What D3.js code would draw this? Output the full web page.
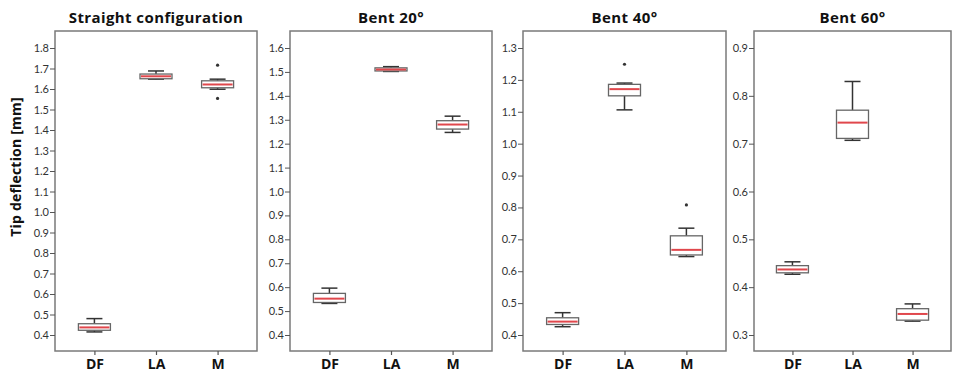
<!DOCTYPE html>
<html>
<head>
<meta charset="utf-8">
<script src="https://cdn.jsdelivr.net/npm/d3@7/dist/d3.min.js"></script>
<style>
  html, body { margin: 0; padding: 0; background: #fff; }
  svg { display: block; }
</style>
</head>
<body>
<svg id="chart" width="953" height="372"></svg>
<script>
// Groups shown on every panel
const categories = ["DF", "LA", "M"];

// Panel titles
const panelTitles = ["Straight configuration", "Bent 20°", "Bent 40°", "Bent 60°"];

// Y tick values for each panel
const straightTicks = [0.4, 0.5, 0.6, 0.7, 0.8, 0.9, 1.0, 1.1, 1.2, 1.3, 1.4, 1.5, 1.6, 1.7, 1.8];
const bent20Ticks = [0.4, 0.5, 0.6, 0.7, 0.8, 0.9, 1.0, 1.1, 1.2, 1.3, 1.4, 1.5, 1.6];
const bent40Ticks = [0.4, 0.5, 0.6, 0.7, 0.8, 0.9, 1.0, 1.1, 1.2, 1.3];
const bent60Ticks = [0.3, 0.4, 0.5, 0.6, 0.7, 0.8, 0.9];

// Box statistics per group: [lower whisker, Q1, median, Q3, upper whisker] in mm
const straightStats = [
  [0.415, 0.423, 0.437, 0.455, 0.480],
  [1.648, 1.650, 1.662, 1.673, 1.688],
  [1.599, 1.606, 1.622, 1.640, 1.648]
];
const bent20Stats = [
  [0.532, 0.536, 0.552, 0.574, 0.596],
  [1.502, 1.504, 1.510, 1.517, 1.522],
  [1.247, 1.261, 1.280, 1.296, 1.315]
];
const bent40Stats = [
  [0.426, 0.433, 0.442, 0.454, 0.470],
  [1.106, 1.150, 1.171, 1.186, 1.190],
  [0.646, 0.651, 0.667, 0.711, 0.735]
];
const bent60Stats = [
  [0.427, 0.430, 0.437, 0.445, 0.453],
  [0.707, 0.711, 0.744, 0.770, 0.830],
  [0.329, 0.331, 0.344, 0.355, 0.365]
];

// Outlying measurements per group
const straightOutliers = [[], [], [1.716, 1.554]];
const bent20Outliers = [[], [], []];
const bent40Outliers = [[], [1.249], [0.808]];
const bent60Outliers = [[], [], []];

const panelTicks = [straightTicks, bent20Ticks, bent40Ticks, bent60Ticks];
const panelStats = [straightStats, bent20Stats, bent40Stats, bent60Stats];
const panelOutliers = [straightOutliers, bent20Outliers, bent40Outliers, bent60Outliers];

// Layout
const frameX = [[55, 257], [290, 492], [523, 726], [754, 951]];
const frameTop = 31, frameBottom = 351;
const tickTopY = 48, tickBottomY = 335;
const boxWidth = 32, capWidth = 16;
const bodyFont = "Lato, 'Open Sans', 'DejaVu Sans', sans-serif";
const boldFont = "'Open Sans', Lato, 'DejaVu Sans', sans-serif";

const svg = d3.select("#chart");

// Shared y-axis title
svg.append("text")
  .attr("transform", "translate(21, 167) rotate(-90)")
  .attr("text-anchor", "middle")
  .attr("font-family", boldFont)
  .attr("font-weight", "bold")
  .attr("font-size", 14)
  .attr("letter-spacing", 0.2)
  .attr("fill", "#111")
  .text("Tip deflection [mm]");

panelTitles.forEach((title, p) => {
  const [x0, x1] = frameX[p];
  const ticks = panelTicks[p];
  const g = svg.append("g");

  const y = d3.scaleLinear()
    .domain([ticks[0], ticks[ticks.length - 1]])
    .range([tickBottomY, tickTopY]);

  const x = d3.scalePoint()
    .domain(categories)
    .range([x0, x1])
    .padding(0.64);

  // Panel frame
  g.append("rect")
    .attr("x", x0).attr("y", frameTop)
    .attr("width", x1 - x0).attr("height", frameBottom - frameTop)
    .attr("fill", "#fff")
    .attr("stroke", "#7a7a7a")
    .attr("stroke-width", 1.5);

  // Title
  g.append("text")
    .attr("x", (x0 + x1) / 2).attr("y", 23)
    .attr("text-anchor", "middle")
    .attr("font-family", boldFont)
    .attr("font-weight", "bold")
    .attr("font-size", 15)
    .attr("letter-spacing", 0.4)
    .attr("fill", "#111")
    .text(title);

  // Y axis
  const yAxis = g.append("g")
    .attr("transform", `translate(${x0},0)`)
    .call(d3.axisLeft(y).tickValues(ticks).tickFormat(d3.format(".1f")).tickSize(5).tickPadding(1));
  yAxis.select(".domain").remove();
  yAxis.selectAll("line").attr("stroke", "#555").attr("stroke-width", 1);
  yAxis.selectAll("text")
    .attr("font-family", bodyFont)
    .attr("font-size", 11)
    .attr("fill", "#333");

  // X axis
  const xAxis = g.append("g")
    .attr("transform", `translate(0,${frameBottom})`)
    .call(d3.axisBottom(x).tickSize(4).tickPadding(4));
  xAxis.select(".domain").remove();
  xAxis.selectAll("line").attr("stroke", "#555").attr("stroke-width", 1.2);
  xAxis.selectAll("text")
    .attr("font-family", boldFont)
    .attr("font-weight", "bold")
    .attr("font-size", 14)
    .attr("fill", "#111");

  // Box plots
  panelStats[p].forEach((s, i) => {
    const cx = x(categories[i]);
    const [lo, q1, med, q3, hi] = s;
    const bg = g.append("g");

    // Whiskers
    bg.append("line")
      .attr("x1", cx).attr("x2", cx)
      .attr("y1", y(q3)).attr("y2", y(hi))
      .attr("stroke", "#333").attr("stroke-width", 1.5);
    bg.append("line")
      .attr("x1", cx).attr("x2", cx)
      .attr("y1", y(q1)).attr("y2", y(lo))
      .attr("stroke", "#333").attr("stroke-width", 1.5);
    [lo, hi].forEach(v => {
      bg.append("line")
        .attr("x1", cx - capWidth / 2).attr("x2", cx + capWidth / 2)
        .attr("y1", y(v)).attr("y2", y(v))
        .attr("stroke", "#333").attr("stroke-width", 1.5);
    });

    // Box
    bg.append("rect")
      .attr("x", cx - boxWidth / 2)
      .attr("y", y(q3))
      .attr("width", boxWidth)
      .attr("height", Math.max(1, y(q1) - y(q3)))
      .attr("fill", "#fff")
      .attr("stroke", "#666")
      .attr("stroke-width", 1.3);

    // Median
    bg.append("line")
      .attr("x1", cx - boxWidth / 2 + 1).attr("x2", cx + boxWidth / 2 - 1)
      .attr("y1", y(med)).attr("y2", y(med))
      .attr("stroke", "#e0474c").attr("stroke-width", 2);

    // Outliers
    panelOutliers[p][i].forEach(v => {
      bg.append("circle")
        .attr("cx", cx).attr("cy", y(v))
        .attr("r", 1.6)
        .attr("fill", "#333");
    });
  });
});
</script>
</body>
</html>
